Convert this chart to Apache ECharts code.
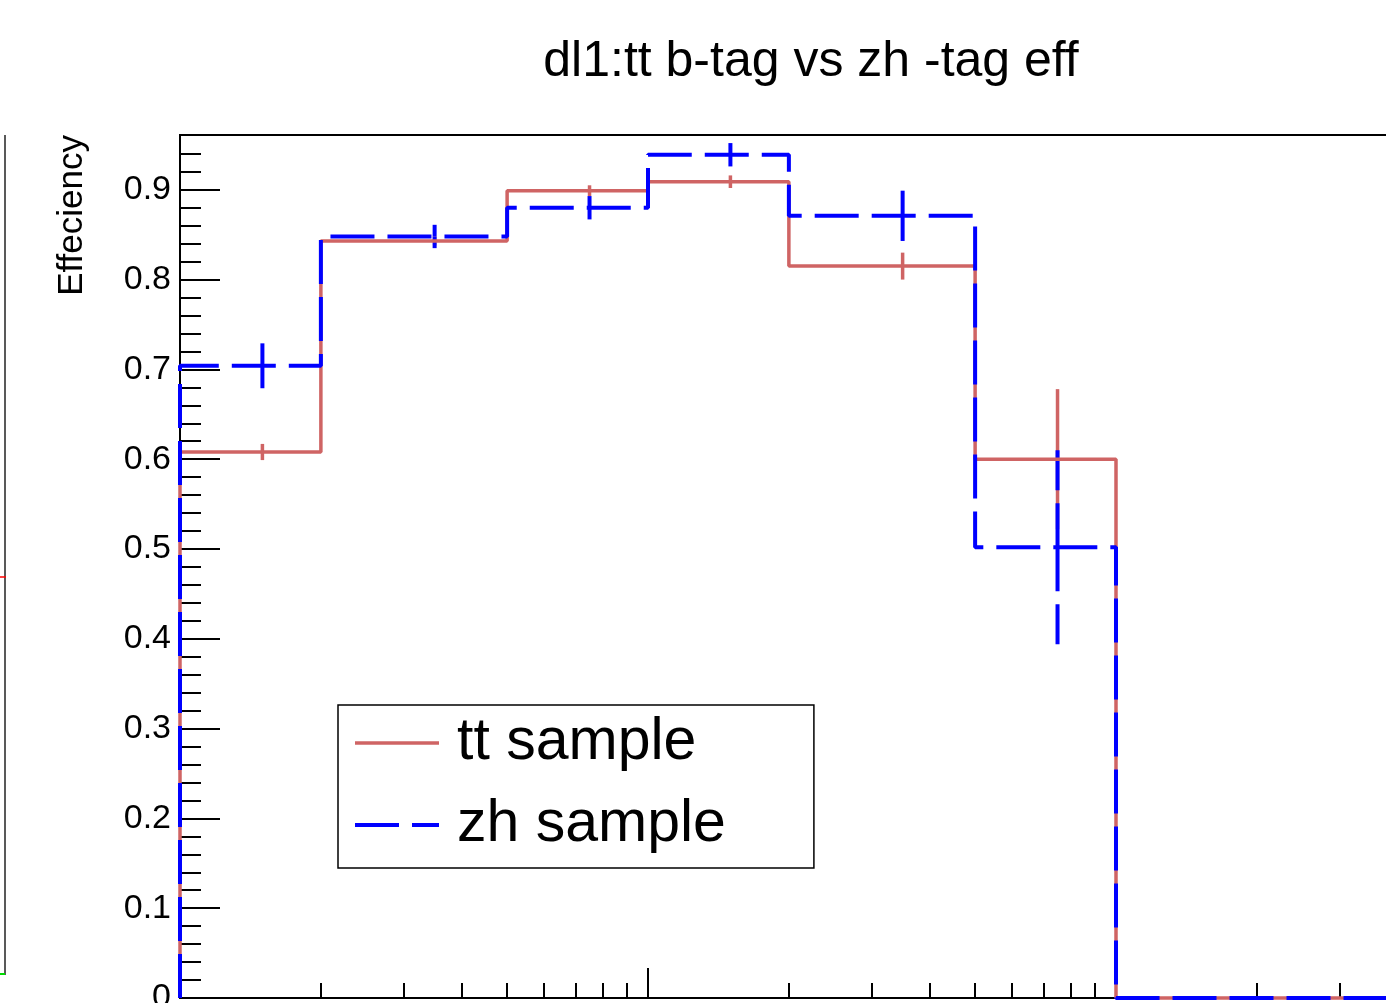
<!DOCTYPE html>
<html>
<head>
<meta charset="utf-8">
<title>dl1 b-tag efficiency</title>
<script src="https://cdn.jsdelivr.net/npm/echarts@6/dist/echarts.min.js"></script>
<style>
    html, body { margin: 0; padding: 0; background: #fff; }
    #chart { width: 1386px; height: 1003px; }
</style>
</head>
<body>
<div id="chart"></div>
<script>
// bin edges on the (log) x axis, one efficiency per bin
var binEdges = [10, 20, 50, 100, 200, 500, 1000, 10000];
var ttEff = [0.608, 0.843, 0.899, 0.909, 0.815, 0.600, 0];
var ttErr = [0.009, 0.005, 0.006, 0.007, 0.015, 0.078, 0];
var zhEff = [0.704, 0.848, 0.880, 0.939, 0.871, 0.502, 0];
var zhErr = [0.025, 0.013, 0.013, 0.013, 0.028, 0.108, 0];

// tick positions
var yTicks = [0, 0.1, 0.2, 0.3, 0.4, 0.5, 0.6, 0.7, 0.8, 0.9];
var yMinorTicks = [0.02, 0.04, 0.06, 0.08, 0.12, 0.14, 0.16, 0.18, 0.22, 0.24, 0.26, 0.28,
    0.32, 0.34, 0.36, 0.38, 0.42, 0.44, 0.46, 0.48, 0.52, 0.54, 0.56, 0.58,
    0.62, 0.64, 0.66, 0.68, 0.72, 0.74, 0.76, 0.78, 0.82, 0.84, 0.86, 0.88, 0.92, 0.94];
var xMajorTicks = [100, 1000];
var xMinorTicks = [20, 30, 40, 50, 60, 70, 80, 90, 200, 300, 400, 500, 600, 700, 800, 900,
    2000, 3000, 4000, 5000, 6000, 7000, 8000, 9000];

var FONT = 'Liberation Sans, Arial, Helvetica, sans-serif';
var RED = '#cf6464';
var BLUE = '#0000ff';
var DASH = [44, 13];

// histogram outline: up from 0 at the first edge, then one step per bin
function stepData(vals) {
    var d = [[binEdges[0], 0]];
    for (var i = 0; i < vals.length; i++) {
        d.push([binEdges[i], vals[i]]);
    }
    d.push([binEdges[binEdges.length - 1], vals[vals.length - 1]]);
    return d;
}

function errData(vals, errs) {
    var d = [];
    for (var i = 0; i < vals.length; i++) {
        if (errs[i] > 0) {
            d.push([(binEdges[i] + binEdges[i + 1]) / 2, vals[i], errs[i]]);
        }
    }
    return d;
}

// vertical error bar, drawn as two halves going out from the bin value
function errBar(color, width, dash) {
    return function (params, api) {
        var c = api.coord([api.value(0), api.value(1)]);
        var top = api.coord([api.value(0), api.value(1) + api.value(2)]);
        var bot = api.coord([api.value(0), api.value(1) - api.value(2)]);
        var st = { stroke: color, lineWidth: width, lineDash: dash };
        return {
            type: 'group',
            children: [
                { type: 'line', shape: { x1: c[0], y1: c[1], x2: top[0], y2: top[1] }, style: st },
                { type: 'line', shape: { x1: c[0], y1: c[1], x2: bot[0], y2: bot[1] }, style: st }
            ]
        };
    };
}

function xAxisDef(ticks, len) {
    return {
        type: 'log', logBase: 10, min: 10, max: 10000, position: 'bottom',
        axisLine: { show: false },
        axisTick: { inside: true, length: len, customValues: ticks, lineStyle: { color: '#000', width: 2 } },
        axisLabel: { show: false },
        splitLine: { show: false }
    };
}

var myChart = echarts.init(document.getElementById('chart'));

var option = {
    animation: false,
    backgroundColor: '#fff',
    grid: {
        left: 180, top: 135, width: 1404, height: 863,
        containLabel: false, outerBoundsMode: 'none',
        show: true, borderColor: '#000', borderWidth: 2
    },
    legend: {
        orient: 'vertical', left: 338, top: 705,
        data: [
            { name: 'tt sample', lineStyle: { color: RED, width: 3.5 } },
            { name: 'zh sample', lineStyle: { color: BLUE, width: 4, type: DASH } }
        ],
        itemWidth: 84, itemHeight: 14, itemGap: 20,
        padding: [7, 88, 12, 15],
        borderColor: '#000', borderWidth: 1.5, borderRadius: 0,
        backgroundColor: '#fff',
        selectedMode: false,
        itemStyle: { opacity: 0 },
        textStyle: { fontSize: 59, fontFamily: FONT, color: '#000', lineHeight: 62, padding: [0, 0, 0, 13] }
    },
    xAxis: [xAxisDef(xMajorTicks, 30), xAxisDef(xMinorTicks, 15)],
    yAxis: [
        {
            type: 'value', min: 0, max: 0.961, position: 'left',
            axisLine: { show: false },
            axisTick: { inside: true, length: 40, customValues: yTicks, lineStyle: { color: '#000', width: 2 } },
            axisLabel: { customValues: yTicks, margin: 9, fontSize: 34, fontFamily: FONT, color: '#000' },
            splitLine: { show: false }
        },
        {
            type: 'value', min: 0, max: 0.961, position: 'left',
            axisLine: { show: false },
            axisTick: { inside: true, length: 21, customValues: yMinorTicks, lineStyle: { color: '#000', width: 2 } },
            axisLabel: { show: false },
            splitLine: { show: false }
        }
    ],
    series: [
        {
            name: 'tt sample', type: 'line', step: 'end', symbol: 'none', clip: false,
            data: stepData(ttEff),
            lineStyle: { color: RED, width: 3.5 },
            itemStyle: { color: RED }
        },
        {
            name: 'tt err', type: 'custom', clip: false,
            data: errData(ttEff, ttErr),
            renderItem: errBar(RED, 3.5, null)
        },
        {
            name: 'zh sample', type: 'line', step: 'end', symbol: 'none', clip: false,
            data: stepData(zhEff),
            lineStyle: { color: BLUE, width: 4, type: DASH },
            itemStyle: { color: BLUE }
        },
        {
            name: 'zh err', type: 'custom', clip: false,
            data: errData(zhEff, zhErr),
            renderItem: errBar(BLUE, 4, DASH)
        }
    ],
    graphic: [
        {
            type: 'text', x: 811, y: 62,
            style: { text: 'dl1:tt b-tag vs zh -tag eff', fontSize: 50, fontFamily: FONT, fill: '#000', align: 'center', verticalAlign: 'middle' }
        },
        {
            type: 'text', x: 72, y: 135, rotation: Math.PI / 2,
            style: { text: 'Effeciency', fontSize: 35, fontFamily: FONT, fill: '#000', align: 'right', verticalAlign: 'middle' }
        },
        // edge of the neighbouring pad
        { type: 'line', shape: { x1: 5, y1: 135, x2: 5, y2: 975 }, style: { stroke: '#222', lineWidth: 1.5 } },
        { type: 'line', shape: { x1: 0, y1: 577, x2: 6, y2: 577 }, style: { stroke: '#ff0000', lineWidth: 1.5 } },
        { type: 'line', shape: { x1: 0, y1: 974, x2: 5, y2: 974 }, style: { stroke: '#00dd00', lineWidth: 2 } }
    ]
};

myChart.setOption(option);
window.addEventListener('resize', function () {
    myChart.resize();
});
</script>
</body>
</html>
